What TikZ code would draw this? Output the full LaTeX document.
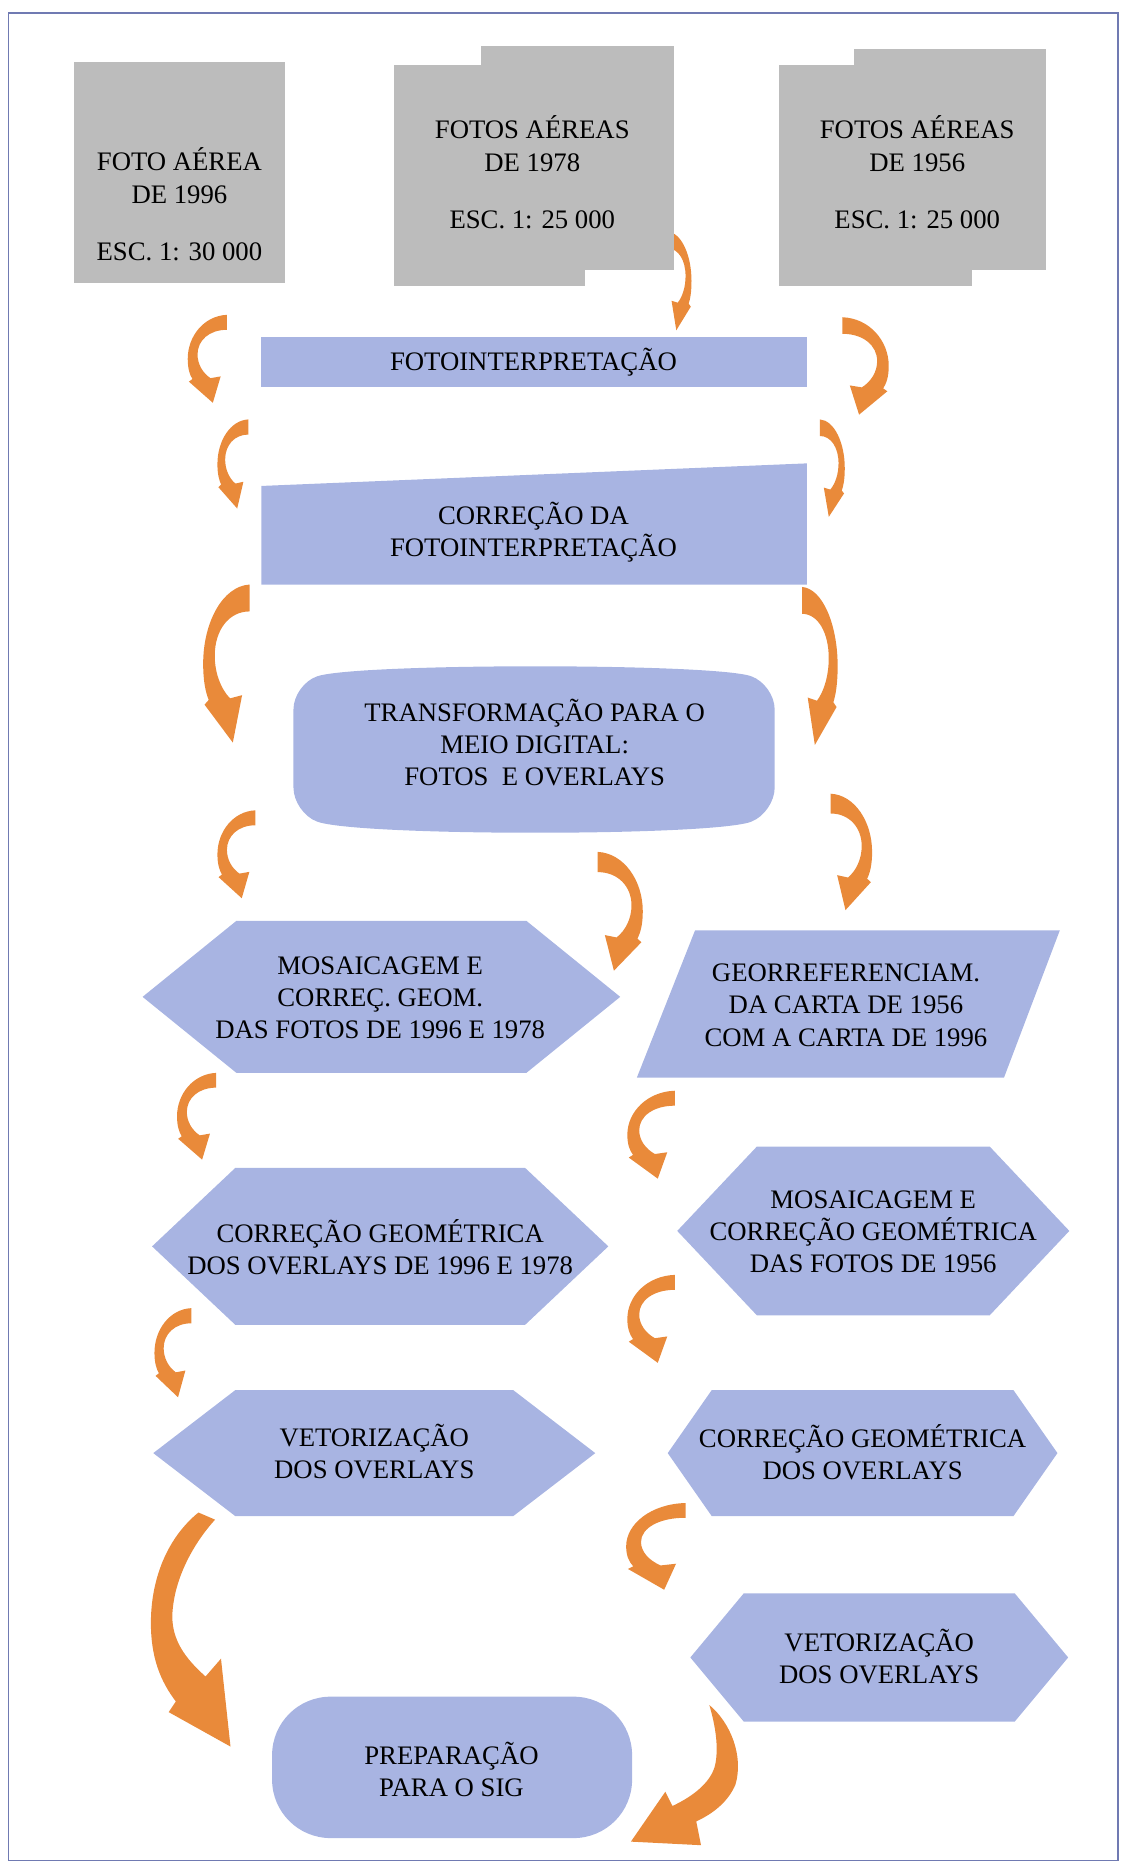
\documentclass[tikz,border=0pt]{standalone}
\usepackage{fontspec}
\setmainfont{Liberation Serif}
\definecolor{boxblue}{RGB}{168,180,226}
\definecolor{boxgray}{RGB}{188,188,188}
\definecolor{arrorange}{RGB}{233,138,58}
\definecolor{framecol}{RGB}{112,122,178}
\tikzset{
  arw/.style={fill=arrorange},
  carr/.pic={\fill[arw] (1,0) .. controls (0.42,0.01) and (0,0.24) .. (0,0.5)
      .. controls (0,0.61) and (0.05,0.68) .. (0.12,0.73) -- (0.03,0.76) -- (0.64,1)
      -- (0.84,0.7) -- (0.58,0.72) .. controls (0.38,0.66) and (0.25,0.56) .. (0.25,0.45)
      .. controls (0.25,0.29) and (0.55,0.17) .. (1,0.17) -- cycle;}
}
\newcommand{\hexa}[5]{\fill[blk] ({#1-#3},#2) -- ({#1-#3+#5},{#2-#4}) -- ({#1+#3-#5},{#2-#4})
  -- ({#1+#3},#2) -- ({#1+#3-#5},{#2+#4}) -- ({#1-#3+#5},{#2+#4}) -- cycle;}
\begin{document}
\begin{tikzpicture}[x=0.02cm,y=-0.02cm,
    blk/.style={fill=boxblue},
    gry/.style={fill=boxgray},
    lbl/.style={align=center,inner sep=0pt,font=\fontsize{12.8}{15.4}\selectfont}]
\useasboundingbox (0,0) rectangle (946,1568);
\draw[framecol,line width=0.7pt] (7,11) rectangle (941,1566);
% arrows on the left side
\foreach \x/\y/\w/\h in {158/265/33/74, 183/353/26/75, 171/492/39/133, 183/682/32/74,
    149/903/33/73, 528/918/40/74, 130/1101/31/75, 528/1073/40/74, 527/1265/50/73}
  \pic[xscale=\w,yscale=\h] at (\x,\y) {carr};
% arrows on the right side
\foreach \x/\y/\w/\h in {582/195/20/83, 748/267/39/82, 711/353/21/82, 705/494/30/133,
    541/717/38/100, 734/668/35/98}
  \pic[xscale=-\w,yscale=\h] at (\x,\y) {carr};
% the two long ones into the last box
\fill[arw] (167,1273) .. controls (140,1295) and (127,1330) .. (127,1366)
  .. controls (127,1395) and (135,1415) .. (148,1432) -- (142,1441) -- (194,1470)
  -- (186,1396) -- (173,1411) .. controls (155,1395) and (145,1380) .. (145,1360)
  .. controls (146,1330) and (162,1300) .. (181,1279) -- cycle;
\fill[arw] (597,1435) .. controls (615,1450) and (626,1478) .. (619,1502)
  .. controls (613,1516) and (601,1526) .. (586,1533) -- (590,1553) -- (531,1550)
  -- (560,1508) -- (566,1520) .. controls (585,1511) and (599,1499) .. (602,1485)
  .. controls (605,1470) and (602,1452) .. (597,1435) -- cycle;
% photos
\fill[gry] (62,52) rectangle (240,238);
\fill[gry] (405,39) rectangle (567,227);
\fill[gry] (332,55) rectangle (492,241);
\fill[gry] (719,41) rectangle (880,227);
\fill[gry] (656,55) rectangle (818,241);
\node[lbl] (fa96) at (151,172) {FOTO AÉREA\\DE 1996\\[12pt]ESC. 1: 30 000};
\node[lbl] (fa78) at (448,145) {FOTOS AÉREAS\\DE 1978\\[12pt]ESC. 1: 25 000};
\node[lbl] (fa56) at (772,145) {FOTOS AÉREAS\\DE 1956\\[12pt]ESC. 1: 25 000};
% central column
\fill[blk] (220,284) rectangle (679,326);
\node[lbl] (fint) at (449,305) {FOTOINTERPRETAÇÃO};
\fill[blk] (220,409) -- (679,390) -- (679,492) -- (220,492) -- cycle;
\node[lbl] (corr) at (449,448) {CORREÇÃO DA\\FOTOINTERPRETAÇÃO};
\fill[blk,rounded corners=12] (247,576) .. controls (300,558) and (600,558) .. (652,576)
  -- (652,684) .. controls (600,704) and (300,704) .. (247,684) -- cycle;
\node[lbl] (trans) at (450,625) {TRANSFORMAÇÃO PARA O\\MEIO DIGITAL:\\FOTOS~ E OVERLAYS};
% left branch
\hexa{321}{839}{201}{64}{79}
\node[lbl] (mos) at (320,840) {MOSAICAGEM E\\CORREÇ. GEOM.\\DAS FOTOS DE 1996 E 1978};
\hexa{320}{1049}{192}{66}{70}
\node[lbl] (cgov) at (320,1050) {CORREÇÃO GEOMÉTRICA\\DOS OVERLAYS DE 1996 E 1978};
\hexa{315}{1223}{186}{53}{69}
\node[lbl] (vet) at (315,1222) {VETORIZAÇÃO\\DOS OVERLAYS};
% right branch
\fill[blk] (585,783) -- (892,783) -- (845,907) -- (536,907) -- cycle;
\node[lbl] (geo) at (712,846) {GEORREFERENCIAM.\\DA CARTA DE 1956\\COM A CARTA DE 1996};
\hexa{735}{1036}{165}{71}{67}
\node[lbl] (mos56) at (735,1037) {MOSAICAGEM E\\CORREÇÃO GEOMÉTRICA\\DAS FOTOS DE 1956};
\hexa{726}{1223}{164}{53}{37}
\node[lbl] (cgov56) at (726,1222) {CORREÇÃO GEOMÉTRICA\\DOS OVERLAYS};
\hexa{740}{1395}{159}{54}{45}
\node[lbl] (vet56) at (740,1394) {VETORIZAÇÃO\\DOS OVERLAYS};
% end
\fill[blk,rounded corners=28] (229,1428) rectangle (532,1547);
\node[lbl] (prep) at (380,1489) {PREPARAÇÃO\\PARA O SIG};
\end{tikzpicture}
\end{document}
